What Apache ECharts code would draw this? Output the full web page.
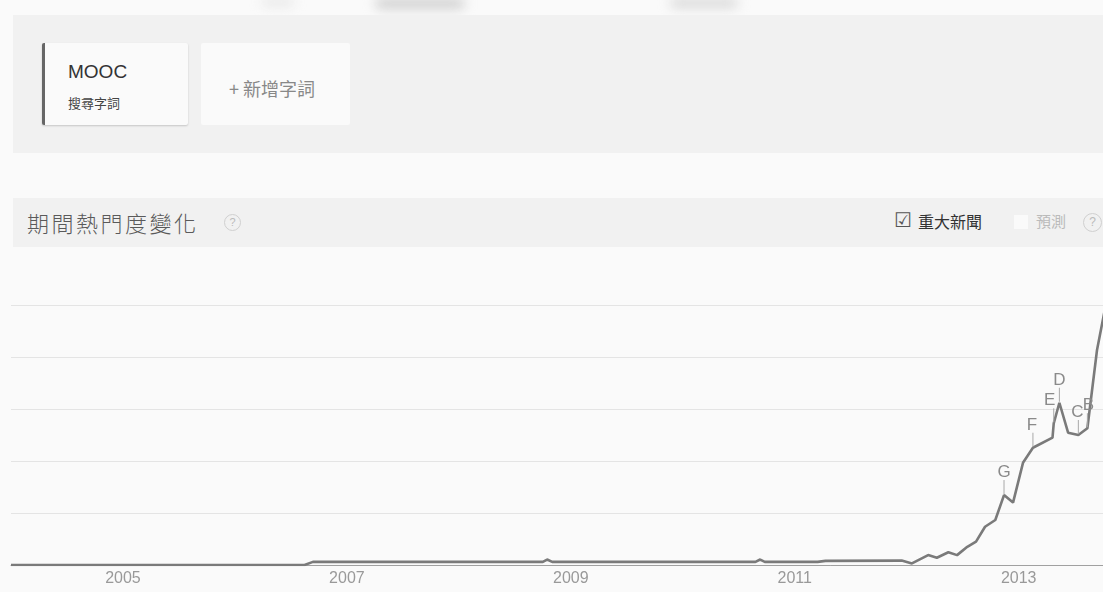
<!DOCTYPE html>
<html>
<head>
<meta charset="utf-8">
<script src="https://cdn.jsdelivr.net/npm/echarts@6/dist/echarts.min.js"></script>
<style>
  html, body { margin:0; padding:0; }
  body { width:1103px; height:592px; overflow:hidden; background:#fafafa; position:relative;
         font-family:'Liberation Sans', Arial, 'Noto Sans CJK TC', sans-serif; }
  .abs { position:absolute; }
  .blur { position:absolute; background:#cfcfcf; filter:blur(6px); border-radius:6px; }
  .panel { left:13px; top:15px; width:1090px; height:138px; background:#f1f1f1; }
  .card { background:#fafafa; border-radius:2px; }
  .card1 { left:42px; top:43px; width:143px; height:82px; border-left:3px solid #666;
           box-shadow:0 1px 2px rgba(0,0,0,0.18); }
  .card2 { left:201px; top:43px; width:149px; height:82px; }
  .bar { left:13px; top:198px; width:1090px; height:49px; background:#f1f1f1; }
  .q { width:15px; height:15px; border:1px solid #d0d0d0; border-radius:50%; color:#bbb;
       font-size:11px; line-height:15px; text-align:center; }
  #chart { position:absolute; left:0; top:248px; width:1103px; height:344px; }
</style>
</head>
<body>
<div class="blur" style="left:262px;top:-2px;width:32px;height:8px;background:#e6e6e6;"></div>
<div class="blur" style="left:375px;top:-2px;width:90px;height:11px;"></div>
<div class="blur" style="left:670px;top:-2px;width:68px;height:10px;background:#d8d8d8;"></div>

<div class="abs panel"></div>
<div class="abs card card1"></div>
<div class="abs card card2"></div>
<div class="abs" style="left:68px;top:61px;font-size:19px;color:#333;">MOOC</div>
<div class="abs" style="left:68px;top:94px;font-size:13px;color:#444;font-family:'Noto Sans CJK TC',sans-serif;line-height:18px;">搜尋字詞</div>
<div class="abs" style="left:229px;top:75px;font-size:18px;color:#888;font-family:'Noto Sans CJK TC',sans-serif;line-height:26px;">+ 新增字詞</div>

<div class="abs bar"></div>
<div class="abs" style="left:27px;top:208px;font-size:22px;letter-spacing:2.5px;color:#5a5a5a;font-family:'Noto Sans CJK TC',sans-serif;font-weight:300;line-height:28px;">期間熱門度變化</div>
<div class="abs q" style="left:224px;top:214px;">?</div>
<div class="abs" style="left:894px;top:207px;font-size:20px;color:#555;font-family:'DejaVu Sans',sans-serif;line-height:26px;">☑</div>
<div class="abs" style="left:918px;top:209px;font-size:16px;color:#333;font-family:'Noto Sans CJK TC',sans-serif;font-weight:400;line-height:24px;">重大新聞</div>
<div class="abs" style="left:1014px;top:215px;width:14px;height:14px;background:#fafafa;"></div>
<div class="abs" style="left:1036px;top:209px;font-size:15px;color:#bbb;font-family:'Noto Sans CJK TC',sans-serif;line-height:24px;">預測</div>
<div class="abs q" style="left:1083px;top:213px;width:17px;height:17px;line-height:17px;font-size:12px;">?</div>

<div id="chart"></div>
<script>
// ---- data ----
const dates = [
  '2004-01-01','2006-08-15','2006-09-12','2008-10-01','2008-10-15','2008-11-01',
  '2010-08-25','2010-09-10','2010-09-25','2011-03-15','2011-04-10','2011-12-15',
  '2012-01-18','2012-03-10','2012-04-08','2012-05-15','2012-06-13','2012-07-16',
  '2012-08-14','2012-09-13','2012-10-16','2012-11-14','2012-12-13','2013-01-15',
  '2013-02-17','2013-04-20','2013-04-24','2013-05-12','2013-06-10','2013-07-13',
  '2013-08-12','2013-09-13','2013-10-16'
];
const interest = [
  0, 0, 1.2, 1.2, 2.1, 1.2,
  1.2, 2.1, 1.2, 1.2, 1.6, 1.7,
  0.6, 3.8, 2.8, 4.9, 3.8, 7.0,
  9.0, 14.7, 17.3, 26.9, 24.0, 39.3,
  45.1, 49.0, 54.5, 62.4, 50.9, 50.0,
  52.6, 82.7, 103
];
const eventLabels = ['G', 'F', 'E', 'D', 'C', 'B'];
const eventDates = ['2012-11-14', '2013-02-17', '2013-04-24', '2013-05-12', '2013-07-13', '2013-08-12'];
const eventDx = [0, -1, -4, 0, -1, 1];
const yearLabels = ['2005', '2007', '2009', '2011', '2013'];

function toYear(s) {
  const [y, m, d] = s.split('-').map(Number);
  return y + (m - 1) / 12 + (d - 1) / 365;
}
const lineData = dates.map((d, i) => [toYear(d), interest[i]]);
const eventData = eventDates.map((d, k) => {
  const i = dates.indexOf(d);
  return [toYear(d), interest[i], k];
});

const chart = echarts.init(document.getElementById('chart'), null, { renderer: 'canvas' });
chart.setOption({
  animation: false,
  grid: { left: 11, right: 0, top: 5, bottom: 27 },
  xAxis: {
    type: 'value', min: 2004, max: 2013.753, interval: 1,
    axisLine: { show: true, lineStyle: { color: '#a0a0a0', width: 1 } },
    axisTick: { show: false },
    splitLine: { show: false },
    axisLabel: {
      showMinLabel: false, showMaxLabel: false,
      color: '#999', fontSize: 16, margin: 6, fontFamily: 'Liberation Sans, Arial',
      formatter: v => yearLabels.includes(String(Math.round(v))) ? String(Math.round(v)) : ''
    }
  },
  yAxis: {
    type: 'value', min: 0, max: 120, interval: 20,
    axisLine: { show: false }, axisTick: { show: false }, axisLabel: { show: false },
    splitLine: { show: true, lineStyle: { color: ['#e4e4e4','#e4e4e4','#e4e4e4','#e4e4e4','#e4e4e4','#e4e4e4','rgba(0,0,0,0)'], width: 1 } }
  },
  series: [
    {
      type: 'line', data: lineData, symbol: 'none', smooth: false,
      lineStyle: { color: '#7a7a7a', width: 2.6 },
      clip: true, z: 3
    },
    {
      type: 'custom', data: eventData, z: 4,
      renderItem: function (params, api) {
        const p = api.coord([api.value(0), api.value(1)]);
        const k = api.value(2);
        return {
          type: 'group',
          children: [
            { type: 'line', shape: { x1: p[0], y1: p[1] - 1, x2: p[0], y2: p[1] - 15 },
              style: { stroke: '#a8a8a8', lineWidth: 1 } },
            { type: 'text', style: { text: eventLabels[k], x: p[0] + eventDx[k], y: p[1] - 14,
              align: 'center', verticalAlign: 'bottom', fill: '#8a8a8a',
              font: '17px "Liberation Sans", Arial' } }
          ]
        };
      }
    }
  ]
});
</script>
</body>
</html>
